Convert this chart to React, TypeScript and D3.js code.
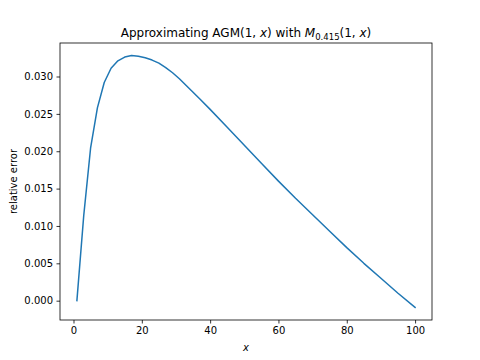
import { useEffect, useRef } from "react";
import * as d3 from "d3";

// sample points
const xs = [
  1, 3, 5, 7, 9, 11, 13, 15, 17, 19, 21, 23, 25, 27, 29, 31, 33, 35, 37, 40, 45, 50, 55, 60, 65, 70, 75, 80, 85,
  90, 95, 100,
];
const errs = [
  0.0, 0.0114, 0.0204, 0.0258, 0.0292, 0.0311, 0.0321, 0.0326, 0.0328, 0.0327, 0.0325, 0.0322, 0.0318,
  0.0312, 0.0305, 0.0297, 0.0288, 0.0279, 0.027, 0.0256, 0.0232, 0.0208, 0.0184, 0.016, 0.0137, 0.0115,
  0.0093, 0.0071, 0.005, 0.003, 0.001, -0.0009,
];
const xTicks = [0, 20, 40, 60, 80, 100];
const yTicks = [0.0, 0.005, 0.01, 0.015, 0.02, 0.025, 0.03];

const App = () => {
  const ref = useRef<SVGSVGElement>(null);

  useEffect(() => {
    const svg = d3.select(ref.current);
    svg.selectAll("*").remove();

    const width = 480;
    const height = 360;
    const margin = { top: 43, right: 48, bottom: 40, left: 60 };
    const w = width - margin.left - margin.right;
    const h = height - margin.top - margin.bottom;
    const font = "DejaVu Sans, sans-serif";

    // matplotlib style 5% padding
    const xMin = d3.min(xs)!;
    const xMax = d3.max(xs)!;
    const yMin = d3.min(errs)!;
    const yMax = d3.max(errs)!;
    const xPad = (xMax - xMin) * 0.05;
    const yPad = (yMax - yMin) * 0.05;

    const x = d3.scaleLinear().domain([xMin - xPad, xMax + xPad]).range([0, w]);
    const y = d3.scaleLinear().domain([yMin - yPad, yMax + yPad]).range([h, 0]);

    const g = svg.append("g").attr("transform", `translate(${margin.left},${margin.top})`);

    // axes
    const xAxis = d3
      .axisBottom(x)
      .tickValues(xTicks)
      .tickSize(3.5)
      .tickPadding(3.5)
      .tickFormat(d3.format("d"));
    const yAxis = d3
      .axisLeft(y)
      .tickValues(yTicks)
      .tickSize(3.5)
      .tickPadding(3.5)
      .tickFormat(d3.format(".3f"));

    const gx = g.append("g").attr("transform", `translate(0,${h})`).call(xAxis);
    const gy = g.append("g").call(yAxis);
    [gx, gy].forEach((a) => {
      a.select(".domain").remove();
      a.selectAll(".tick line").attr("stroke", "#000").attr("stroke-width", 0.8);
      a.selectAll(".tick text")
        .attr("fill", "#000")
        .style("font-family", font)
        .style("font-size", "10px");
    });

    // line
    const pts = xs.map((v, i) => [v, errs[i]] as [number, number]);
    const line = d3
      .line<[number, number]>()
      .x((d) => x(d[0]))
      .y((d) => y(d[1]));
    g.append("path")
      .datum(pts)
      .attr("fill", "none")
      .attr("stroke", "#1f77b4")
      .attr("stroke-width", 1.5)
      .attr("stroke-linejoin", "round")
      .attr("stroke-linecap", "square")
      .attr("d", line);

    // frame
    g.append("rect")
      .attr("width", w)
      .attr("height", h)
      .attr("fill", "none")
      .attr("stroke", "#000")
      .attr("stroke-width", 0.8);

    // labels
    svg
      .append("text")
      .attr("x", margin.left + w / 2)
      .attr("y", height - 9)
      .attr("text-anchor", "middle")
      .style("font-family", font)
      .style("font-size", "10px")
      .style("font-style", "italic")
      .text("x");

    svg
      .append("text")
      .attr("transform", `translate(17,${margin.top + h / 2}) rotate(-90)`)
      .attr("text-anchor", "middle")
      .style("font-family", font)
      .style("font-size", "10px")
      .text("relative error");

    const title = svg
      .append("text")
      .attr("x", margin.left + w / 2)
      .attr("y", 37)
      .attr("text-anchor", "middle")
      .style("font-family", font)
      .style("font-size", "12px");
    title.append("tspan").text("Approximating AGM(1, ");
    title.append("tspan").style("font-style", "italic").text("x");
    title.append("tspan").text(") with ");
    title.append("tspan").style("font-style", "italic").text("M");
    title.append("tspan").attr("dy", 3).style("font-size", "8.5px").text("0.415");
    title.append("tspan").attr("dy", -3).text("(1, ");
    title.append("tspan").style("font-style", "italic").text("x");
    title.append("tspan").text(")");
  }, []);

  return (
    <div style={{ position: "fixed", left: 0, top: 0, width: 480, height: 360, background: "#fff" }}>
      <svg ref={ref} width={480} height={360} />
    </div>
  );
};

export default App;
